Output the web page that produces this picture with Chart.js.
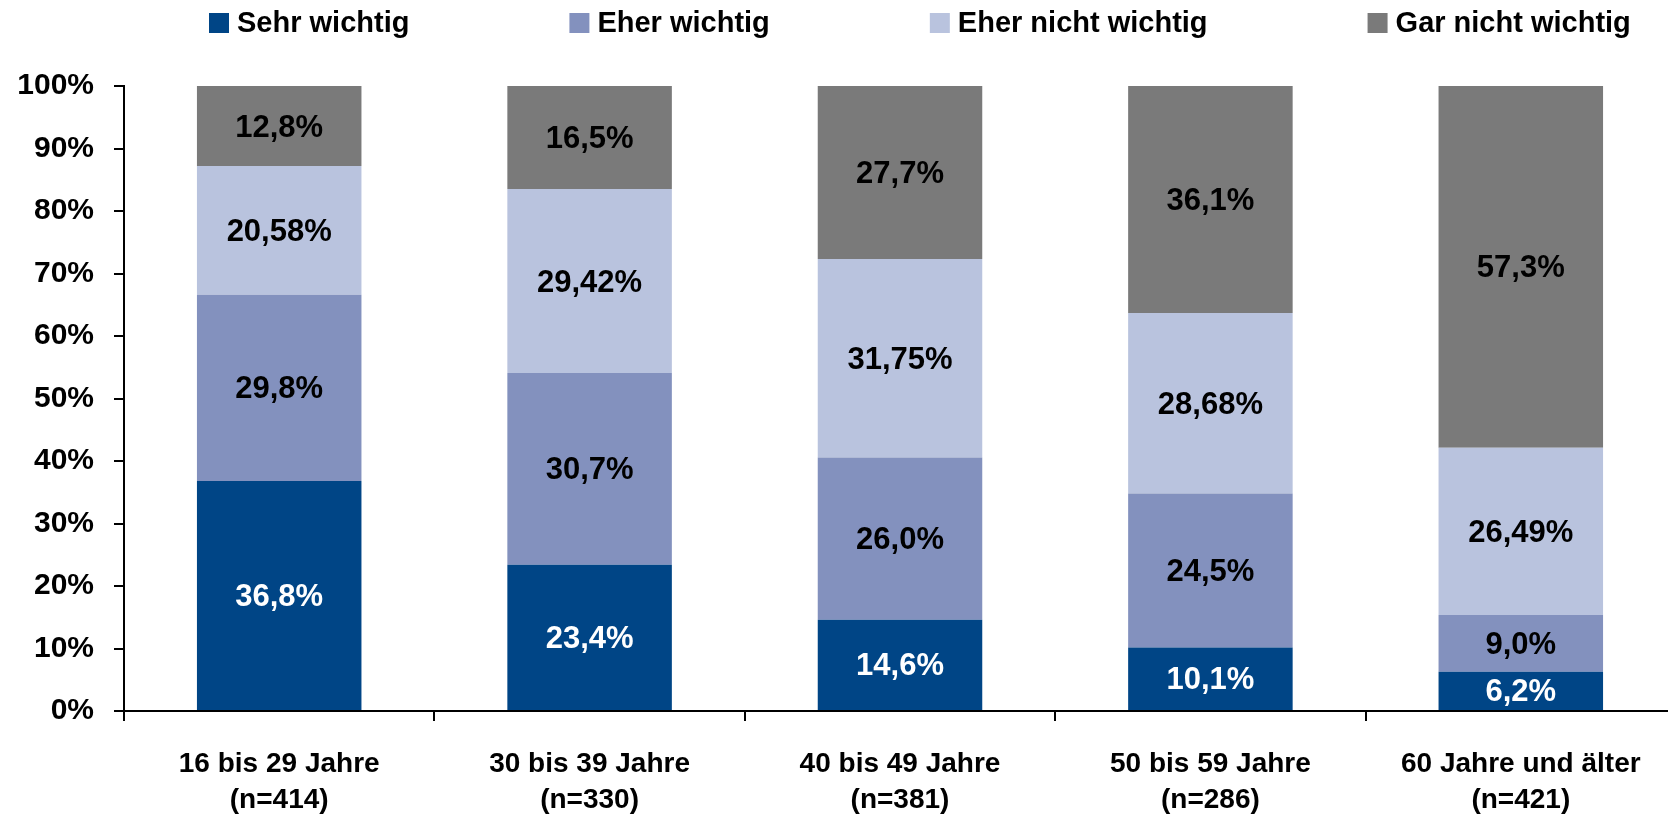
<!DOCTYPE html>
<html>
<head>
<meta charset="utf-8">
<script src="https://cdn.jsdelivr.net/npm/chart.js@4"></script>
<style>
  html, body { margin: 0; padding: 0; background: #fff; overflow: hidden; }
  #wrap { position: absolute; left: 0; top: 0; width: 1676px; height: 816px; }
</style>
</head>
<body>
<div id="wrap"><canvas id="myChart"></canvas></div>
<script>
const categories = [
    ['16 bis 29 Jahre', '(n=414)'],
    ['30 bis 39 Jahre', '(n=330)'],
    ['40 bis 49 Jahre', '(n=381)'],
    ['50 bis 59 Jahre', '(n=286)'],
    ['60 Jahre und älter', '(n=421)']
];
const seriesNames = ['Sehr wichtig', 'Eher wichtig', 'Eher nicht wichtig', 'Gar nicht wichtig'];
const sehrWichtig = [36.8, 23.4, 14.6, 10.1, 6.2];
const eherWichtig = [29.8, 30.7, 26.0, 24.5, 9.0];
const eherNichtWichtig = [20.58, 29.42, 31.75, 28.68, 26.49];
const garNichtWichtig = [12.8, 16.5, 27.7, 36.1, 57.3];
const decimals = [1, 1, 2, 1];
const yTicks = [0, 10, 20, 30, 40, 50, 60, 70, 80, 90, 100];

const colors = ['#004586', '#8391be', '#b9c3de', '#7a7a7a'];
const labelColors = ['#ffffff', '#000000', '#000000', '#000000'];
const FONT = "'Liberation Sans', Arial, sans-serif";

const raw = [sehrWichtig, eherWichtig, eherNichtWichtig, garNichtWichtig];
// 100% stacked: each column scaled to its own total
const totals = categories.map((c, i) => raw.reduce((s, arr) => s + arr[i], 0));

const datasets = raw.map((arr, k) => ({
    label: seriesNames[k],
    data: arr.map((v, i) => v / totals[i] * 100),
    rawValues: arr,
    backgroundColor: colors[k],
    borderWidth: 0,
    barPercentage: 0.53,
    categoryPercentage: 1
}));

// values in the middle of every segment
const segmentLabels = {
    id: 'segmentLabels',
    afterDatasetsDraw(chart) {
        const {ctx} = chart;
        ctx.save();
        ctx.font = 'bold 31px ' + FONT;
        ctx.textAlign = 'center';
        ctx.textBaseline = 'middle';
        chart.data.datasets.forEach((ds, k) => {
            const meta = chart.getDatasetMeta(k);
            meta.data.forEach((bar, i) => {
                const {x, y, base} = bar.getProps(['x', 'y', 'base'], true);
                const txt = ds.rawValues[i].toFixed(decimals[k]).replace('.', ',') + '%';
                ctx.fillStyle = labelColors[k];
                ctx.fillText(txt, x, (y + base) / 2 + 2);
            });
        });
        ctx.restore();
    }
};

// legend row above the plot
const topLegend = {
    id: 'topLegend',
    afterDraw(chart, args, opts) {
        const {ctx} = chart;
        ctx.save();
        ctx.font = 'bold 29px ' + FONT;
        ctx.textBaseline = 'middle';
        ctx.textAlign = 'left';
        let x = opts.startX;
        chart.data.datasets.forEach((ds) => {
            ctx.fillStyle = ds.backgroundColor;
            ctx.fillRect(x, 13, 20, 20);
            ctx.fillStyle = '#000';
            ctx.fillText(ds.label, x + 28, 24);
            x += 28 + ctx.measureText(ds.label).width + 160;
        });
        ctx.restore();
    }
};

const config = {
    type: 'bar',
    data: { labels: categories, datasets },
    plugins: [segmentLabels, topLegend],
    options: {
        responsive: true,
        maintainAspectRatio: false,
        animation: false,
        layout: { padding: { top: 86, left: 0, right: 0, bottom: 0 } },
        plugins: {
            legend: { display: false },
            tooltip: { enabled: false },
            topLegend: { startX: 209 }
        },
        scales: {
            x: {
                stacked: true,
                afterFit(scale) { scale.height = 105; },
                grid: {
                    offset: true,
                    drawOnChartArea: false,
                    drawTicks: true,
                    tickLength: 10,
                    color: '#000',
                    lineWidth: 2
                },
                border: { display: true, color: '#000', width: 2 },
                ticks: {
                    color: '#000',
                    padding: 25,
                    maxRotation: 0,
                    autoSkip: false,
                    font: { family: FONT, size: 28, weight: 'bold', lineHeight: 1.3 }
                }
            },
            y: {
                stacked: true,
                min: 0,
                max: 100,
                afterFit(scale) { scale.width = 124; },
                afterBuildTicks(scale) { scale.ticks = yTicks.map(v => ({ value: v })); },
                grid: {
                    drawOnChartArea: false,
                    drawTicks: true,
                    tickLength: 10,
                    color: '#000',
                    lineWidth: 2
                },
                border: { display: true, color: '#000', width: 2 },
                ticks: {
                    color: '#000',
                    padding: 20,
                    font: { family: FONT, size: 30, weight: 'bold' },
                    callback: v => v + '%'
                }
            }
        }
    }
};

const myChart = new Chart(document.getElementById('myChart'), config);
</script>
</body>
</html>
